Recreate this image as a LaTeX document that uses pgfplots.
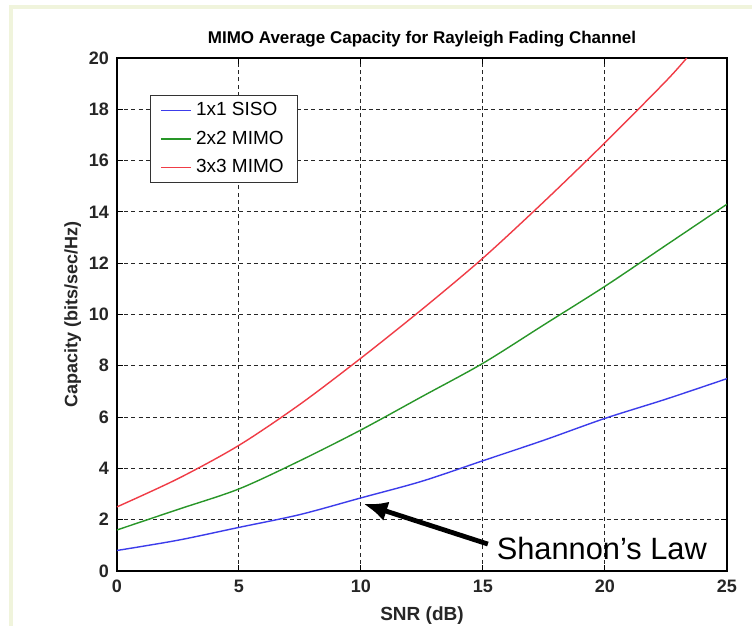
\documentclass[border=0pt]{standalone}
\usepackage{fontspec}
\setmainfont{Liberation Sans}
\usepackage{pgfplots}
\pgfplotsset{compat=1.18}
\usetikzlibrary{arrows.meta}
\definecolor{cblue}{RGB}{60,60,235}
\definecolor{cgreen}{RGB}{40,150,40}
\definecolor{cred}{RGB}{240,60,70}
\definecolor{cream}{RGB}{240,244,220}
\begin{document}
\begin{tikzpicture}
\path[use as bounding box, fill=white] (0,0) rectangle (376pt,313pt);
\draw[cream, line width=2pt] (5.5pt,0) -- (5.5pt,309.5pt) -- (376pt,309.5pt);
\begin{axis}[
  at={(58.5pt,27.5pt)}, anchor=south west,
  scale only axis, width=305pt, height=256.5pt,
  xmin=0, xmax=25, ymin=0, ymax=20,
  xtick={0,5,...,25}, ytick={0,2,...,20},
  tick align=inside, major tick length=3pt,
  tick style={black, line width=0.5pt},
  axis line style={black, line width=0.7pt},
  grid=major,
  major grid style={black!85, line width=0.5pt, dash pattern=on 2pt off 1.6pt},
  /pgf/number format/assume math mode=true,
  ticklabel style={font=\fontsize{9}{10}\selectfont\bfseries, text=black!85},
  xticklabel style={yshift=-1pt},
  yticklabel style={xshift=-0.5pt},
  title={\fontsize{8.5}{10}\selectfont\bfseries MIMO Average Capacity for Rayleigh Fading Channel},
  title style={yshift=-4pt},
  xlabel={\fontsize{9.5}{11}\selectfont\bfseries SNR (dB)},
  ylabel={\fontsize{9}{11}\selectfont\bfseries Capacity (bits/sec/Hz)},
  xlabel style={yshift=0pt, text=black!85},
  ylabel style={yshift=-3pt, text=black!85},
  legend style={at={(0.054,0.928)}, anchor=north west, draw=black!80, line width=0.7pt,
    font=\fontsize{9.5}{11}\selectfont, inner xsep=5pt, inner ysep=1.5pt, row sep=2pt},
  legend cell align=left,
  legend image code/.code={\draw[#1, line width=0.7pt] (0,0) -- (15pt,0);},
]
\addplot[cblue, line width=0.7pt, smooth] coordinates {
(0,0.8) (2.5,1.2) (5,1.7) (7.5,2.2) (10,2.85) (12.5,3.5) (15,4.3) (17.5,5.1) (20,5.95) (22.5,6.7) (25,7.5)};
\addlegendentry{1x1 SISO}
\addplot[cgreen, line width=0.7pt, smooth] coordinates {
(0,1.6) (2.5,2.4) (5,3.2) (7.5,4.3) (10,5.5) (12.5,6.8) (15,8.1) (17.5,9.6) (20,11.1) (22.5,12.7) (25,14.3)};
\addlegendentry{2x2 MIMO}
\addplot[cred, line width=0.7pt, smooth] coordinates {
(0,2.5) (2.5,3.6) (5,4.9) (7.5,6.5) (10,8.3) (12.5,10.2) (15,12.2) (17.5,14.4) (20,16.7) (22.5,19.1) (23.35,20)};
\addlegendentry{3x3 MIMO}
\draw[-{Latex[length=12pt,width=10pt]}, line width=2.4pt] (axis cs:15.2,1.05) -- (axis cs:10.1,2.62);
\node[anchor=west, inner sep=0pt, font=\fontsize{15.4}{17}\selectfont] at (axis cs:15.55,0.86) {Shannon’s Law};
\end{axis}
\end{tikzpicture}
\end{document}
